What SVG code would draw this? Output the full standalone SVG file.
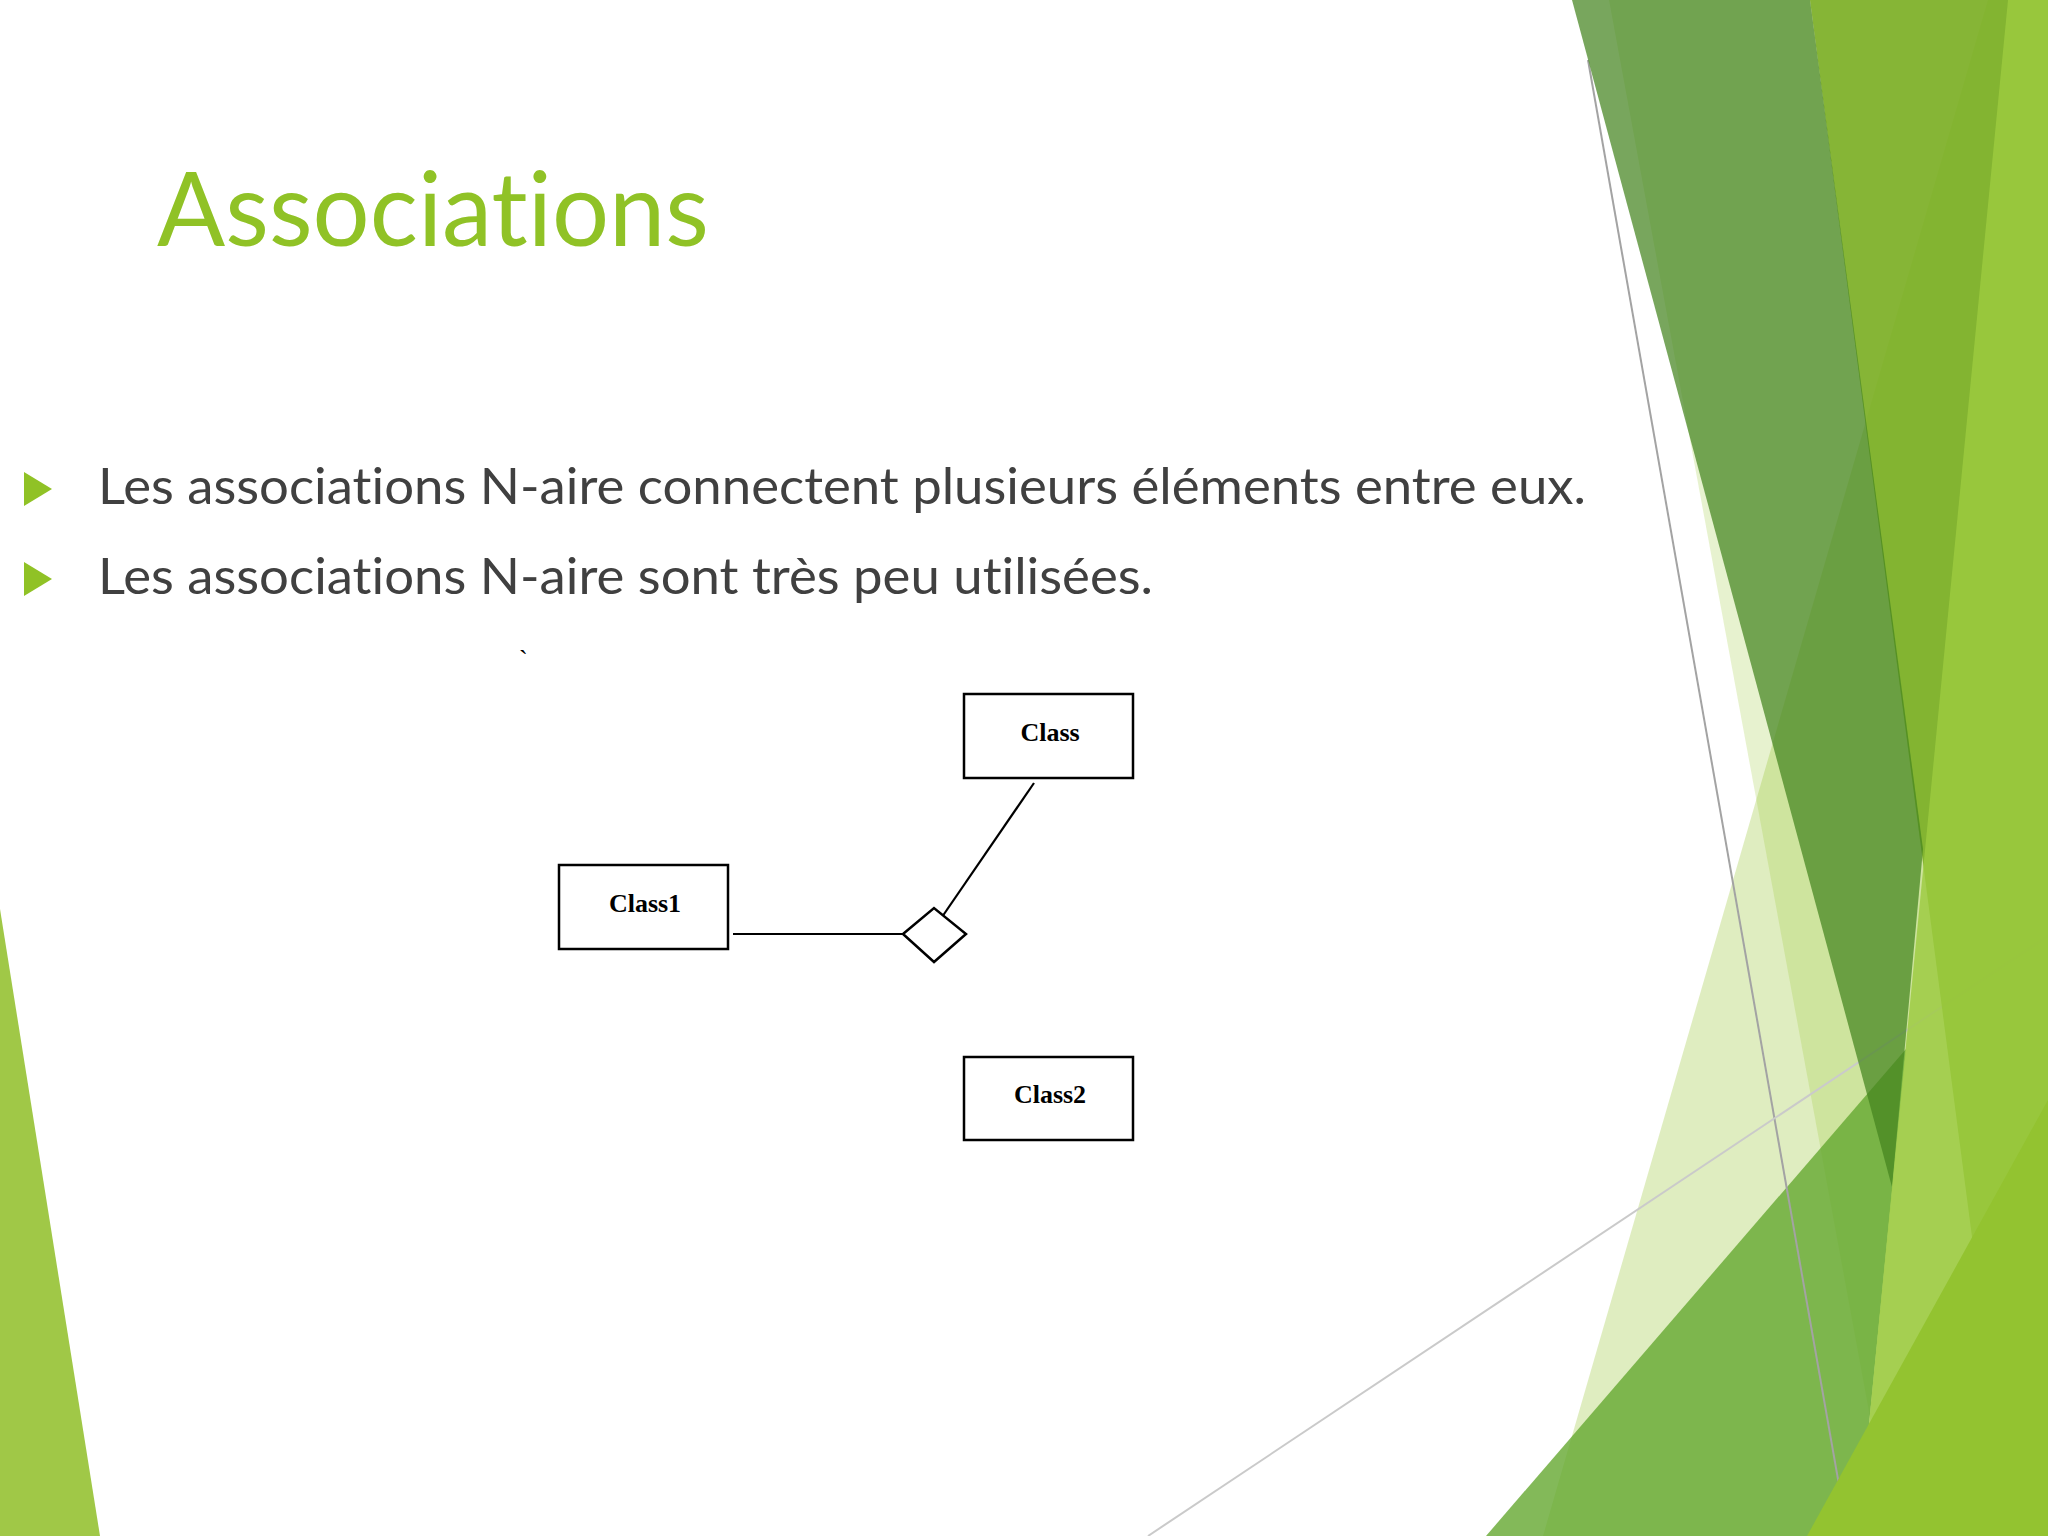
<svg xmlns="http://www.w3.org/2000/svg" width="2048" height="1536" viewBox="0 0 2048 1536">
<defs>
<style>
.title{font-family:Lato,"Open Sans","Liberation Sans",sans-serif;font-size:102px;fill:#90C226;font-variant-ligatures:none;font-feature-settings:"liga" 0}
.body{font-family:Lato,"Open Sans","Liberation Sans",sans-serif;font-size:51px;fill:#404040;font-variant-ligatures:none;font-feature-settings:"liga" 0}
.bullet{fill:#90C226}
.box{fill:#FFFFFF;stroke:#000000;stroke-width:2.5}
.lbl{font-family:"Liberation Serif","Times New Roman",serif;font-weight:bold;font-size:26px;fill:#000000;text-anchor:middle}
.conn{stroke:#000000;stroke-width:2.2;fill:none}
</style>
</defs>
<rect x="0" y="0" width="2048" height="1536" fill="#FFFFFF"/>
<g id="decor">
<polygon points="1543,1536 1988,0 2048,0 2048,1536" fill="#90C226" fill-opacity="0.29"/>
<polygon points="1609,0 1892,1536 2048,1536 2048,0" fill="#90C226" fill-opacity="0.22"/>
<polygon points="1486,1536 1906,1049 1858,1536" fill="rgb(100,167,47)" fill-opacity="0.8"/>
<line x1="1588" y1="60" x2="1848" y2="1536" stroke="#A3A3A3" stroke-width="2"/>
<line x1="1148" y1="1536" x2="2048" y2="936" stroke="#CACACA" stroke-width="2"/>
<polygon points="1810,0 2048,0 2048,1817" fill="rgb(123,174,37)" fill-opacity="0.9"/>
<polygon points="1572,0 1810,0 1923,849 1892,1187" fill="rgb(68,131,31)" fill-opacity="0.72"/>
<polygon points="2008,0 2048,0 2048,1536 1858,1536" fill="rgb(156,202,63)" fill-opacity="0.82"/>
<polygon points="1807,1536 2048,1100 2048,1536" fill="#93C330"/>
<polygon points="0,909 100,1536 0,1536" fill="#A0C847"/>
</g>
<text class="title" x="157" y="246" textLength="552" lengthAdjust="spacingAndGlyphs">Associations</text>
<polygon class="bullet" points="24,472 52,489 24,506"/>
<polygon class="bullet" points="24,562 52,579 24,596"/>
<text class="body" x="98" y="504" textLength="1488" lengthAdjust="spacingAndGlyphs">Les associations N-aire connectent plusieurs éléments entre eux.</text>
<text class="body" x="98" y="594" textLength="1055" lengthAdjust="spacingAndGlyphs">Les associations N-aire sont très peu utilisées.</text>
<text x="519" y="668" font-family="Liberation Serif, serif" font-size="26" fill="#000000">`</text>
<g id="connectors">
<line class="conn" x1="733" y1="934" x2="903" y2="934"/>
<line class="conn" x1="1034" y1="783" x2="942" y2="917"/>
</g>
<g id="assoc-diamond">
<polygon class="box" points="903,934 934,908 966,934 934,962" stroke-width="2.2"/>
</g>
<g id="node-class">
<rect class="box" x="964" y="694" width="169" height="84"/>
<text class="lbl" x="1050" y="741">Class</text>
</g>
<g id="node-class1">
<rect class="box" x="559" y="865" width="169" height="84"/>
<text class="lbl" x="645" y="912">Class1</text>
</g>
<g id="node-class2">
<rect class="box" x="964" y="1057" width="169" height="83"/>
<text class="lbl" x="1050" y="1103">Class2</text>
</g>
</svg>
